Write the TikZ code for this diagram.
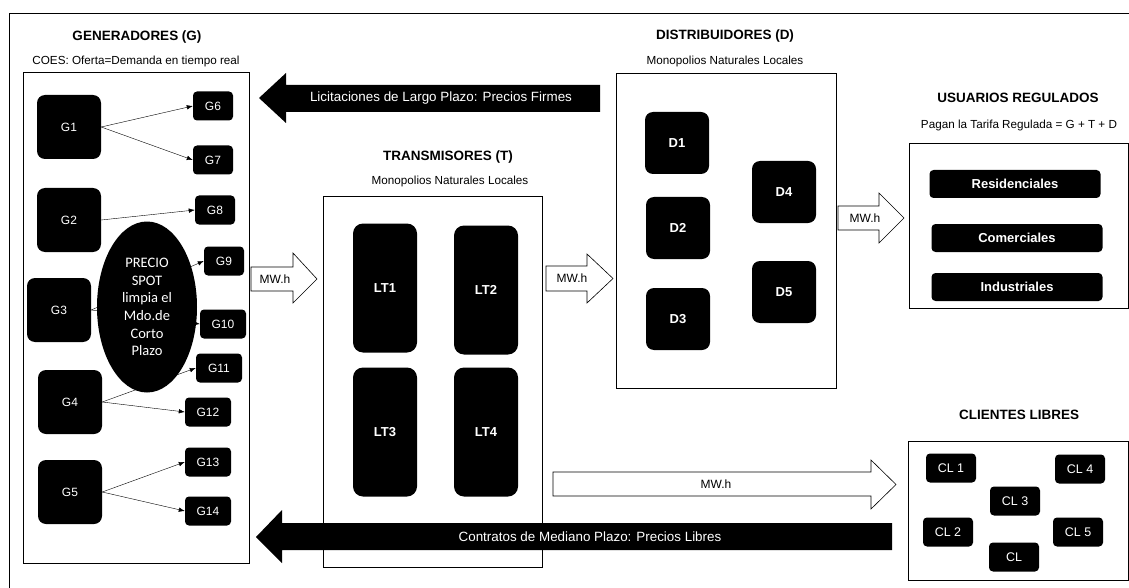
\documentclass[tikz,border=0pt]{standalone}
\usepackage{fontspec}
\setmainfont{Liberation Sans}
\newfontfamily\spotfont{Carlito}
\usetikzlibrary{shapes.geometric,arrows.meta}

\tikzstyle{frame} = [draw, rectangle, line width=0.8pt, inner sep=0pt]
\tikzstyle{bigbox} = [fill=black, text=white, rectangle, rounded corners=8pt, minimum width=64, minimum height=64, inner sep=0pt]
\tikzstyle{smallbox} = [fill=black, text=white, rectangle, rounded corners=4pt, minimum width=40, minimum height=29, inner sep=0pt]
\tikzstyle{boldbox} = [bigbox, font=\bfseries\fontsize{13}{15}\selectfont]
\tikzstyle{bar} = [fill=black, text=white, rectangle, rounded corners=4pt, minimum width=171, minimum height=28, inner sep=0pt, font=\bfseries\fontsize{13}{15}\selectfont]
\tikzstyle{title} = [font=\bfseries\fontsize{13.5}{16}\selectfont]
\tikzstyle{subtitle} = [font=\fontsize{11.7}{14}\selectfont]
\tikzstyle{hollow} = [draw, fill=white, line width=0.6pt]
\tikzstyle{spot} = [fill=black, text=white, ellipse, minimum width=100, minimum height=171, inner sep=0pt, align=center, font=\spotfont\fontsize{14.5}{17.7}\selectfont]

\begin{document}
\begin{tikzpicture}[x=1pt, y=-1pt, >={Latex[length=6pt,width=4.5pt]}, font=\fontsize{12}{14}\selectfont]
  \useasboundingbox (0,0) rectangle (1129,588);
  \draw[line width=0.8pt] (9,588) -- (9,13) -- (1129,13);

  % generadores
  \node [title] (gtitle) at (137,37) {GENERADORES (G)};
  \node [subtitle] (gsub) at (136,61) {COES: Oferta=Demanda en tiempo real};
  \node [frame, minimum width=226, minimum height=491] (gbox) at (136,317.5) {};
  \node [bigbox] (g1) at (69,127) {G1};
  \node [bigbox] (g2) at (69,220) {G2};
  \node [bigbox] (g3) at (59,310) {G3};
  \node [bigbox] (g4) at (70,402) {G4};
  \node [bigbox] (g5) at (70,492) {G5};
  \node [smallbox] (g6) at (213,106) {G6};
  \node [smallbox] (g7) at (213,160) {G7};
  \node [smallbox] (g8) at (215,210) {G8};
  \node [smallbox] (g9) at (224,261) {G9};
  \node [smallbox, minimum width=46] (g10) at (223,324) {G10};
  \node [smallbox, minimum width=46] (g11) at (219,368) {G11};
  \node [smallbox, minimum width=46] (g12) at (208,412) {G12};
  \node [smallbox, minimum width=46] (g13) at (208,462) {G13};
  \node [smallbox, minimum width=46] (g14) at (208,511) {G14};

  \draw [->] (g1.east) -- (g6.west);
  \draw [->] (g1.east) -- (g7.west);
  \draw [->] (g2.east) -- (g8.west);
  \draw [->] (g3.east) -- (g9.west);
  \draw [->] (g3.east) -- (g10.west);
  \draw [->] (g4.east) -- (g11.west);
  \draw [->] (g4.east) -- (g12.west);
  \draw [->] (g5.east) -- (g13.west);
  \draw [->] (g5.east) -- (g14.west);
  \node [spot] (precio) at (147,307) {PRECIO\\SPOT\\limpia el\\Mdo.de\\Corto\\Plazo};

  % transmisores
  \node [title] (ttitle) at (448,157) {TRANSMISORES (T)};
  \node [subtitle] (tsub) at (450,181) {Monopolios Naturales Locales};
  \node [frame, minimum width=219, minimum height=371] (tbox) at (432.5,381.5) {};
  \node [boldbox, rounded corners=10pt, minimum height=129] (lt1) at (385,288) {LT1};
  \node [boldbox, rounded corners=10pt, minimum height=129] (lt2) at (486,290) {LT2};
  \node [boldbox, rounded corners=10pt, minimum height=129] (lt3) at (385,432) {LT3};
  \node [boldbox, rounded corners=10pt, minimum height=129] (lt4) at (486,432) {LT4};

  % distribuidores
  \node [title] (dtitle) at (725,36) {DISTRIBUIDORES (D)};
  \node [subtitle] (dsub) at (725,61) {Monopolios Naturales Locales};
  \node [frame, minimum width=220, minimum height=315] (dbox) at (726,230.5) {};
  \node [boldbox, minimum height=62] (d1) at (677,143) {D1};
  \node [boldbox, minimum height=62] (d2) at (678,228) {D2};
  \node [boldbox, minimum height=62] (d3) at (678,319) {D3};
  \node [boldbox, minimum height=62] (d4) at (784,192) {D4};
  \node [boldbox, minimum height=62] (d5) at (784,292) {D5};

  % usuarios regulados
  \node [title] (utitle) at (1018,98) {USUARIOS REGULADOS};
  \node [subtitle] (usub) at (1019,125) {Pagan la Tarifa Regulada = G + T + D};
  \node [frame, minimum width=219, minimum height=165] (ubox) at (1018.5,225.5) {};
  \node [bar] (res) at (1015,184) {Residenciales};
  \node [bar] (com) at (1017,238) {Comerciales};
  \node [bar] (ind) at (1017,287) {Industriales};

  % clientes libres
  \node [title] (ctitle) at (1019,415) {CLIENTES LIBRES};
  \node [frame, minimum width=220, minimum height=139] (cbox) at (1018,510.5) {};
  \node [smallbox, minimum width=50, font=\fontsize{12.5}{15}\selectfont] (cl1) at (951,468) {CL 1};
  \node [smallbox, minimum width=50, font=\fontsize{12.5}{15}\selectfont] (cl2) at (948,532) {CL 2};
  \node [smallbox, minimum width=50, font=\fontsize{12.5}{15}\selectfont] (cl3) at (1015,501) {CL 3};
  \node [smallbox, minimum width=50, font=\fontsize{12.5}{15}\selectfont] (cl4) at (1080,469) {CL 4};
  \node [smallbox, minimum width=50, font=\fontsize{12.5}{15}\selectfont] (cl5) at (1078,532) {CL 5};
  \node [smallbox, minimum width=50, font=\fontsize{12.5}{15}\selectfont] (cl6) at (1014,557) {CL};

  % flechas de energia
  \draw [hollow] (251,267) -- (293,267) -- (293,253) -- (317,279) -- (293,303) -- (293,291) -- (251,291) -- cycle;
  \node (mw1) at (275,279) {MW.h};
  \draw [hollow] (546,266) -- (587,266) -- (587,254) -- (613,278.5) -- (587,303) -- (587,291) -- (546,291) -- cycle;
  \node (mw2) at (572,278.5) {MW.h};
  \draw [hollow] (838,206) -- (879,206) -- (879,193) -- (904,218) -- (879,243) -- (879,230) -- (838,230) -- cycle;
  \node (mw3) at (865,218) {MW.h};
  \draw [hollow] (553,472) -- (871,472) -- (871,460) -- (896,484.5) -- (871,509) -- (871,496) -- (553,496) -- cycle;
  \node (mw4) at (716,484) {MW.h};

  % contratos
  \fill (259,98) -- (286,73) -- (286,85) -- (600,85) -- (600,112) -- (286,112) -- (286,123) -- cycle;
  \node [text=white, font=\fontsize{13.4}{16}\selectfont] (licit) at (441,98) {Licitaciones de Largo Plazo: Precios Firmes};
  \fill (256,537) -- (282,510) -- (282,523) -- (892,523) -- (892,550) -- (282,550) -- (282,563) -- cycle;
  \node [text=white, font=\fontsize{13.4}{16}\selectfont] (contr) at (590,537) {Contratos de Mediano Plazo: Precios Libres};
\end{tikzpicture}
\end{document}
